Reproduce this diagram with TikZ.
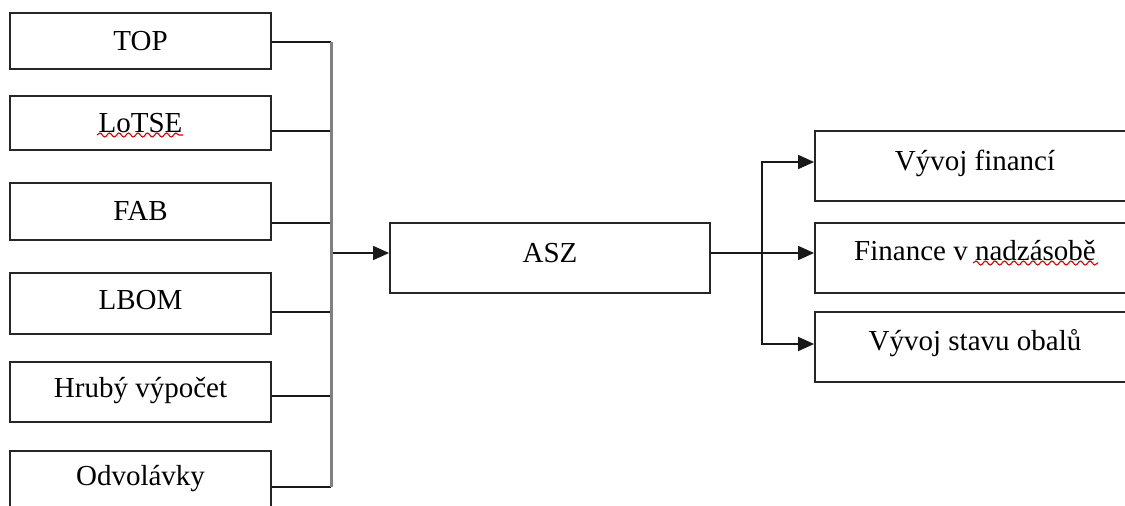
\documentclass[tikz,border=0pt]{standalone}
\usepackage{fontspec}
\setmainfont{Liberation Serif}
\usetikzlibrary{arrows.meta,decorations.pathmorphing}
\begin{document}
\begin{tikzpicture}[x=1pt,y=-1pt,
  box/.style={draw=black!85, line width=1.8pt, fill=white, inner sep=0pt,
    font=\fontsize{29}{34}\selectfont, text height=19pt, text depth=10pt},
  lbox/.style={box, minimum width=261pt},
  rbox/.style={box, minimum width=320pt, minimum height=70pt},
  wire/.style={line width=1.6pt, draw=black!90},
  bus/.style={line width=3pt, draw=black!50},
  arr/.style={wire, -{Triangle[length=16pt,width=14pt]}},
  squig/.style={draw=red!85!black, line width=1.1pt, decorate,
    decoration={snake, amplitude=2pt, segment length=9.5pt}}
]
\useasboundingbox (0,0) rectangle (1125,506);
\clip (0,0) rectangle (1125,506);

% source systems
\node[lbox, minimum height=56pt, text depth=1pt] (top)   at (140.5,41)    {TOP};
\node[lbox, minimum height=54pt, text depth=1pt] (lotse) at (140.5,123)   {LoTSE};
\node[lbox, minimum height=57pt, text depth=2pt] (fab)   at (140.5,211.5) {FAB};
\node[lbox, minimum height=61pt, text depth=8pt] (lbom)  at (140.5,303.5) {LBOM};
\node[lbox, minimum height=60pt, text depth=9pt] (hrub)  at (140.5,392)   {Hrubý výpočet};
\node[lbox, minimum height=58pt, text depth=9pt] (odv)   at (140.5,480)   {Odvolávky};

% central system
\node[rbox, text depth=11pt] (asz) at (550,258) {ASZ};

% outputs
\node[rbox, text depth=11pt] (f1) at (975,166) {Vývoj financí};
\node[rbox, text depth=15pt] (f2) at (975,258) {Finance v nadzásobě};
\node[rbox, text depth=13pt] (f3) at (975,347) {Vývoj stavu obalů};

% bus junctions
\coordinate (b1) at (331,42);
\coordinate (b2) at (331,131);
\coordinate (b3) at (331,223);
\coordinate (b4) at (331,312);
\coordinate (b5) at (331,396);
\coordinate (b6) at (331,487);
\coordinate (bj) at (331,253);

% inputs into the bus
\draw[wire] (top.east |- b1) -- (b1);
\draw[wire] (lotse.east |- b2) -- (b2);
\draw[wire] (fab.east |- b3) -- (b3);
\draw[wire] (lbom.east |- b4) -- (b4);
\draw[wire] (hrub.east |- b5) -- (b5);
\draw[wire] (odv.east |- b6) -- (b6);
\draw[arr] (bj) -- (asz.west |- bj);
\draw[bus] (b1) -- (b6);

% fan-out to the outputs
\coordinate (rj) at (762,253);
\coordinate (r1) at (762,162);
\coordinate (r3) at (762,344);
\draw[arr] (asz.east |- rj) -- (f2.west |- rj);
\draw[arr] (rj) -- (r1) -- (f1.west |- r1);
\draw[arr] (rj) -- (r3) -- (f3.west |- r3);

% spell-check underlines
\draw[squig] (97,135) -- (183,135);
\draw[squig] (973,263) -- (1098,263);
\end{tikzpicture}
\end{document}
